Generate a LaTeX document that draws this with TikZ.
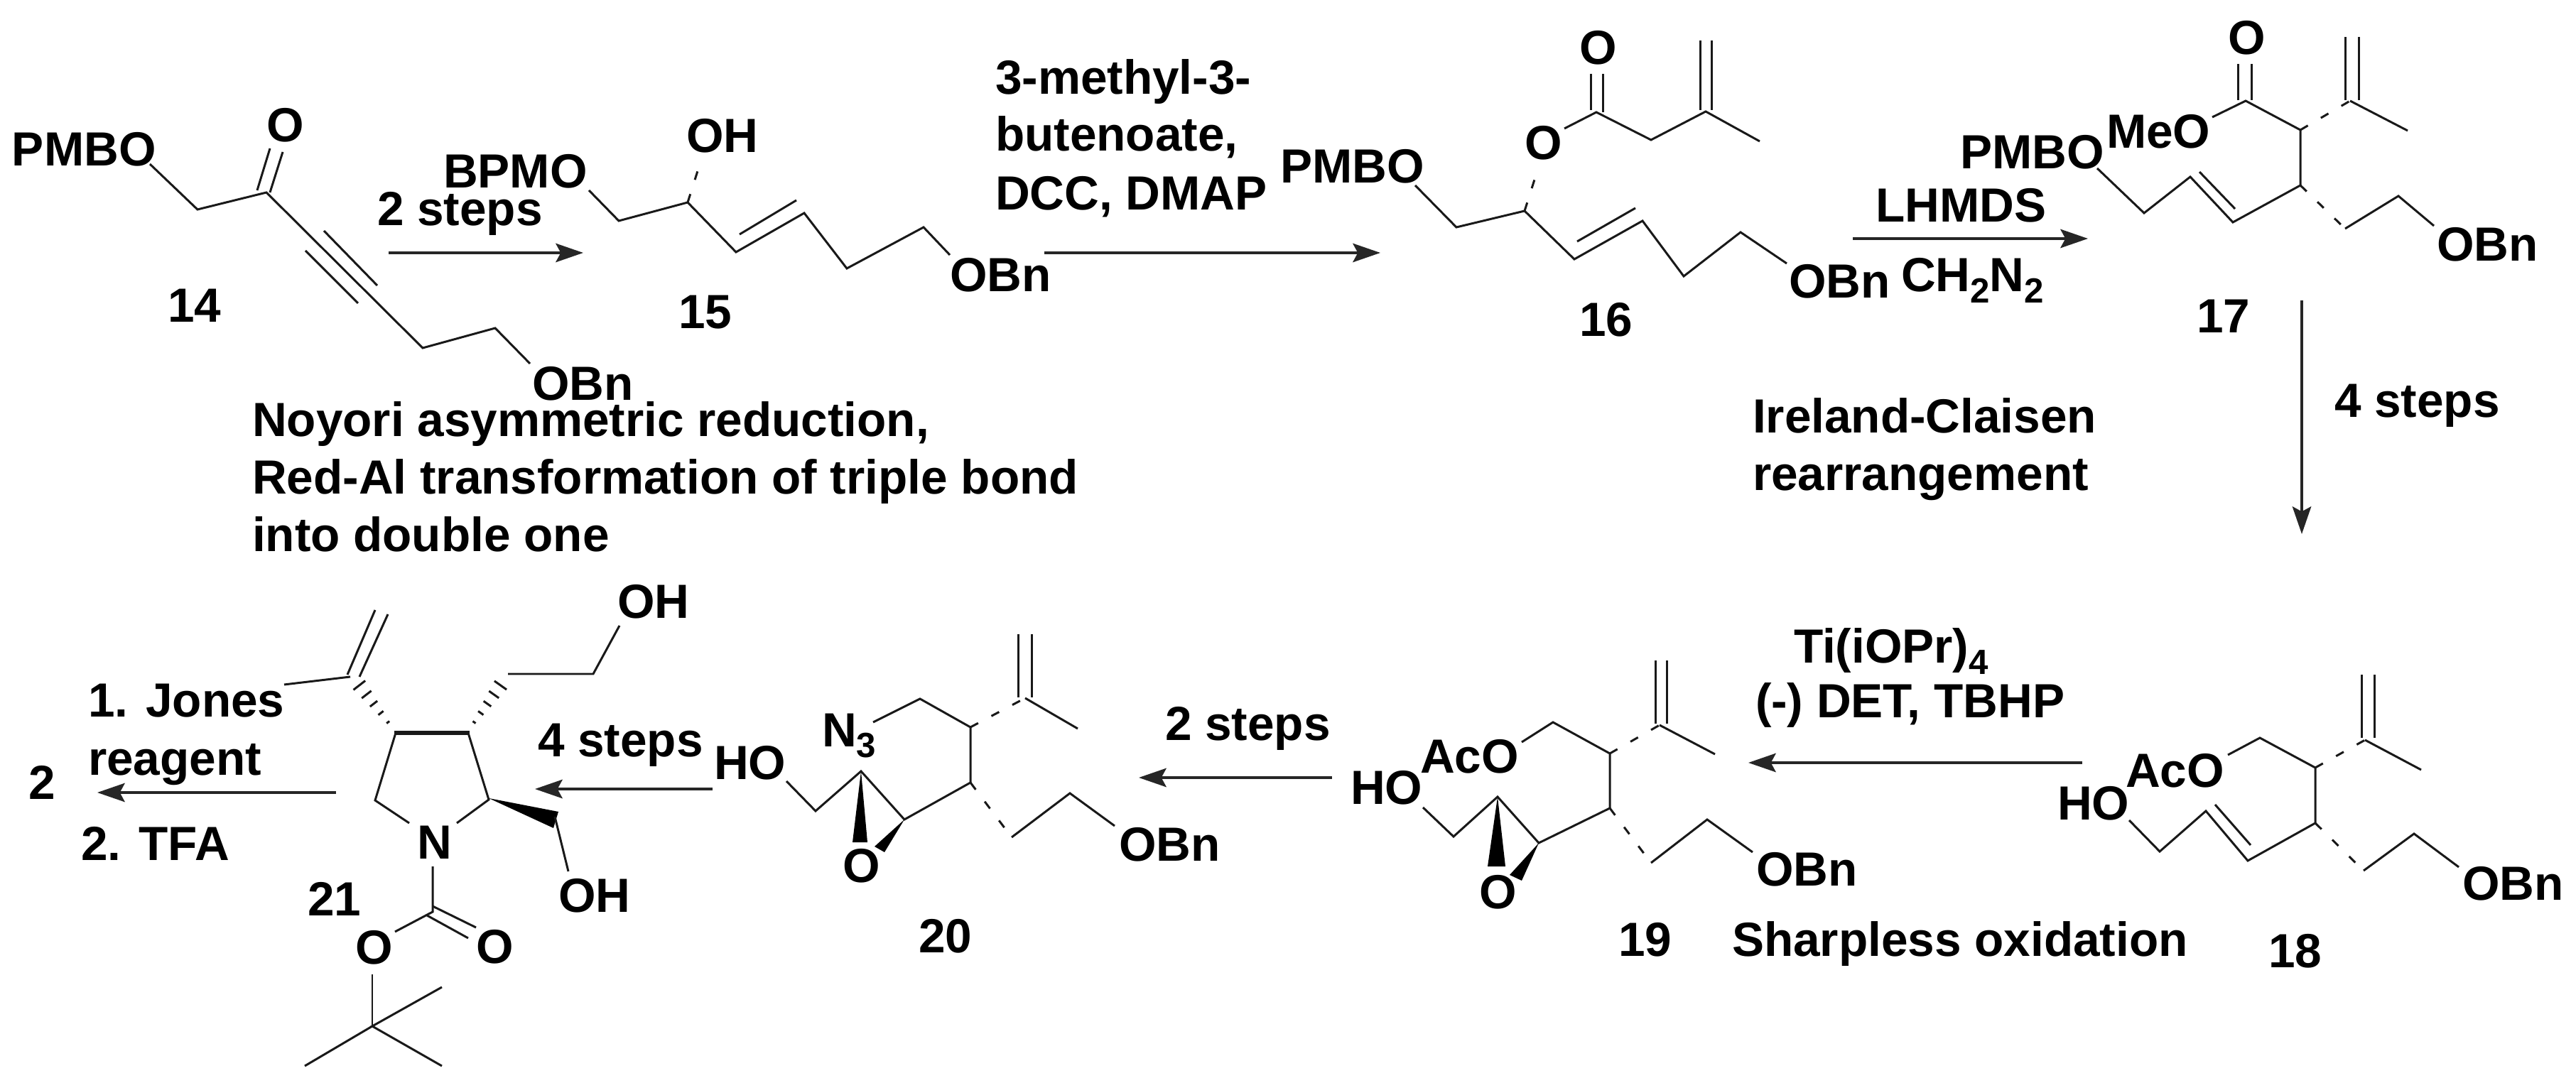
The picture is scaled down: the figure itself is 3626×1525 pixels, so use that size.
\documentclass[tikz,border=0pt]{standalone}
\usepackage{fontspec}
\setmainfont{Liberation Sans}
\usetikzlibrary{arrows.meta,calc}
\newcommand\lab[4]{\node[lab] (#1) at (#2,#3) {#4};}
\newcommand\subtwo[1]{\raisebox{-4.3pt}{\fontsize{14}{16}\selectfont #1}}
% hashed wedge from narrow end (#1) to broad end (#2)
\newcommand\hwedge[2]{%
  \foreach \t/\w in {0.08/2.5,0.29/4.5,0.5/6.5,0.71/8.5,0.92/10.5}{%
    \draw[hashline] ($#1!\t!#2!\w*0.01cm!90:#2$) -- ($#1!\t!#2!\w*0.01cm!-90:#2$);}}
\begin{document}
\begin{tikzpicture}[x=0.01cm,y=-0.01cm,
  lab/.style={anchor=base west,inner sep=0pt,outer sep=0pt,text=black,font=\fontsize{19.2}{23}\selectfont\bfseries},
  bondline/.style={draw=black!90,line width=0.85pt,line join=miter,line cap=butt},
  dashbond/.style={bondline,dash pattern=on 3.5pt off 6pt},
  boldbond/.style={draw=black!90,line width=1.7pt},
  hashline/.style={draw=black!90,line width=0.85pt},
  wedgefill/.style={fill=black,draw=none},
  rxn/.style={draw=black!85,line width=1.1pt,-{Stealth[length=11pt,width=7.5pt,inset=2pt]}}]
\useasboundingbox (0,0) rectangle (3626,1525);
\fill[white] (0,0) rectangle (3626,1525);

% ---- 14 ----
\lab{pmbA}{17}{234}{PMBO}
\lab{oA}{375}{200}{O}
\lab{obnA}{749}{564}{OBn}
\lab{numA}{236}{454}{14}
\draw[bondline] (211,231) -- (278,295) -- (375,271) -- (595,490) -- (697,462) -- (746,512);
\draw[bondline] (362,268) -- (380,209);
\draw[bondline] (380,271) -- (398,214);
\draw[bondline] (456,325) -- (531,402);
\draw[bondline] (430,353) -- (504,427);

% ---- 14 to 15 ----
\coordinate (a1s) at (547,356); \coordinate (a1e) at (821,356);
\draw[rxn] (a1s) -- (a1e);
\lab{stepsA}{531}{318}{2 steps}

% ---- 15 ----
\lab{bpmB}{624}{265}{BPMO}
\lab{ohB}{966}{215}{OH}
\lab{obnB}{1337}{411}{OBn}
\lab{numB}{955}{463}{15}
\draw[bondline] (829,268) -- (871,311) -- (968,285) -- (1036,355) -- (1132,300) -- (1192,378) -- (1300,320) -- (1337,359);
\draw[bondline] (1041,330) -- (1121,282);
\coordinate (hBa) at (968,285); \coordinate (hBb) at (987,225);
\draw[dashbond] (hBa) -- (hBb);

% captions under 14
\lab{noyA}{355}{615}{Noyori asymmetric reduction,}
\lab{noyB}{355}{696}{Red-Al transformation of triple bond}
\lab{noyC}{355}{777}{into double one}

% ---- 15 to 16 ----
\coordinate (a2s) at (1470,356); \coordinate (a2e) at (1943,356);
\draw[rxn] (a2s) -- (a2e);
\lab{reagA}{1401}{133}{3-methyl-3-}
\lab{reagB}{1401}{213}{butenoate,}
\lab{reagC}{1401}{296}{DCC, DMAP}

% ---- 16 ----
\lab{pmbC}{1802}{258}{PMBO}
\lab{oC}{2146}{225}{O}
\lab{ocC}{2223}{91}{O}
\lab{obnC}{2518}{420}{OBn}
\lab{numC}{2223}{474}{16}
\draw[bondline] (1992,261) -- (2050,320) -- (2146,297) -- (2216,365) -- (2312,311) -- (2370,389) -- (2450,327) -- (2515,371);
\draw[bondline] (2220,340) -- (2302,293);
\coordinate (hCa) at (2146,297); \coordinate (hCb) at (2166,234);
\draw[dashbond] (hCa) -- (hCb);
\draw[bondline] (2202,181) -- (2247,158) -- (2324,197) -- (2401,157) -- (2477,199);
\draw[bondline] (2239,155) -- (2239,104);
\draw[bondline] (2256,158) -- (2256,104);
\draw[bondline] (2393,155) -- (2393,57);
\draw[bondline] (2409,155) -- (2409,57);

% ---- 16 to 17 ----
\coordinate (a3s) at (2608,336); \coordinate (a3e) at (2939,336);
\draw[rxn] (a3s) -- (a3e);
\lab{lhm}{2640}{313}{LHMDS}
\lab{chn}{2676}{411}{CH\subtwo{2}N\subtwo{2}}
\lab{irA}{2467}{610}{Ireland-Claisen}
\lab{irB}{2467}{691}{rearrangement}

% ---- 17 ----
\lab{pmbD}{2759}{238}{PMBO}
\lab{meD}{2965}{209}{MeO}
\lab{oD}{3136}{77}{O}
\lab{obnD}{3430}{368}{OBn}
\lab{numD}{3092}{469}{17}
\draw[bondline] (2952,237) -- (3018,300) -- (3083,249) -- (3143,313) -- (3238,261) -- (3238,183) -- (3161,142) -- (3114,165);
\draw[bondline] (3096,242) -- (3146,294);
\draw[dashbond] (3238,261) -- (3301,322);
\draw[bondline] (3301,322) -- (3376,276) -- (3426,318);
\draw[bondline] (3150,141) -- (3150,90);
\draw[bondline] (3169,141) -- (3169,90);
\draw[dashbond] (3238,183) -- (3308,142);
\draw[bondline] (3308,142) -- (3389,184);
\draw[bondline] (3301,141) -- (3301,52);
\draw[bondline] (3320,141) -- (3320,52);

% ---- 17 to 18 ----
\coordinate (a4s) at (3240,423); \coordinate (a4e) at (3240,752);
\draw[rxn] (a4s) -- (a4e);
\lab{stepsD}{3286}{588}{4 steps}

% ---- 18 ----
\lab{hoE}{2896}{1154}{HO}
\lab{acE}{2992}{1108}{AcO}
\lab{obnE}{3466}{1267}{OBn}
\lab{numE}{3193}{1362}{18}
\draw[bondline] (2997,1155) -- (3040,1199) -- (3105,1142) -- (3164,1212) -- (3259,1159) -- (3259,1081) -- (3181,1039) -- (3136,1063);
\draw[bondline] (3118,1133) -- (3168,1190);
\draw[dashbond] (3259,1159) -- (3327,1226);
\draw[bondline] (3327,1226) -- (3398,1174) -- (3461,1221);
\draw[dashbond] (3259,1081) -- (3329,1042);
\draw[bondline] (3329,1042) -- (3408,1084);
\draw[bondline] (3324,1039) -- (3324,950);
\draw[bondline] (3342,1039) -- (3342,950);

% ---- 18 to 19 ----
\coordinate (a5s) at (2931,1074); \coordinate (a5e) at (2461,1074);
\draw[rxn] (a5s) -- (a5e);
\lab{tiA}{2525}{934}{Ti(iOPr)\subtwo{4}}
\lab{tiB}{2471}{1011}{(-) DET, TBHP}
\lab{sharp}{2438}{1346}{Sharpless oxidation}

% ---- 19 ----
\lab{hoF}{1901}{1133}{HO}
\lab{acF}{1999}{1088}{AcO}
\lab{oF}{2082}{1279}{O}
\lab{obnF}{2472}{1247}{OBn}
\lab{numF}{2278}{1346}{19}
\draw[bondline] (2003,1137) -- (2046,1178) -- (2108,1122) -- (2166,1187) -- (2266,1138) -- (2266,1061) -- (2186,1017) -- (2142,1045);
\fill[wedgefill] (2108,1122) -- (2094,1220) -- (2119,1220) -- cycle;
\fill[wedgefill] (2166,1187) -- (2125,1232) -- (2142,1240) -- cycle;
\draw[dashbond] (2266,1138) -- (2324,1215);
\draw[bondline] (2324,1215) -- (2403,1154) -- (2467,1200);
\draw[dashbond] (2266,1061) -- (2336,1021);
\draw[bondline] (2336,1021) -- (2414,1062);
\draw[bondline] (2330,1019) -- (2330,930);
\draw[bondline] (2346,1019) -- (2346,930);

% ---- 19 to 20 ----
\coordinate (a6s) at (1875,1095); \coordinate (a6e) at (1603,1095);
\draw[rxn] (a6s) -- (a6e);
\lab{stepsF}{1640}{1042}{2 steps}

% ---- 20 ----
\lab{hoG}{1005}{1097}{HO}
\lab{nG}{1157}{1051}{N\subtwo{3}}
\lab{oG}{1186}{1242}{O}
\lab{obnG}{1575}{1212}{OBn}
\lab{numG}{1293}{1341}{20}
\draw[bondline] (1107,1100) -- (1148,1142) -- (1212,1086) -- (1273,1154) -- (1366,1102) -- (1366,1024) -- (1295,984) -- (1229,1017);
\fill[wedgefill] (1212,1086) -- (1200,1186) -- (1221,1186) -- cycle;
\fill[wedgefill] (1273,1154) -- (1231,1192) -- (1245,1200) -- cycle;
\draw[dashbond] (1366,1102) -- (1424,1179);
\draw[bondline] (1424,1179) -- (1506,1117) -- (1569,1163);
\draw[dashbond] (1366,1024) -- (1443,983);
\draw[bondline] (1443,983) -- (1517,1026);
\draw[bondline] (1433,982) -- (1433,893);
\draw[bondline] (1452,982) -- (1452,893);

% ---- 20 to 21 ----
\coordinate (a7s) at (1003,1111); \coordinate (a7e) at (753,1111);
\draw[rxn] (a7s) -- (a7e);
\lab{stepsG}{757}{1066}{4 steps}

% ---- 21 ----
\lab{nH}{587}{1209}{N}
\lab{ohH}{786}{1284}{OH}
\lab{ohI}{869}{871}{OH}
\lab{numH}{433}{1289}{21}
\lab{oH}{500}{1357}{O}
\lab{ocH}{670}{1356}{O}
\draw[bondline] (576,1159) -- (528,1127) -- (557,1032);
\draw[boldbond] (555,1032) -- (661,1032);
\draw[bondline] (659,1032) -- (688,1126) -- (643,1159);
\fill[wedgefill] (688,1124) -- (786,1143) -- (779,1166) -- cycle;
\draw[bondline] (781,1150) -- (800,1227);
\draw[bondline] (872,881) -- (835,949) -- (715,949);
\coordinate (hHa) at (664,1022); \coordinate (hHb) at (708,960);
\hwedge{(hHa)}{(hHb)}
\coordinate (hIa) at (550,1022); \coordinate (hIb) at (502,960);
\hwedge{(hIa)}{(hIb)}
\draw[bondline] (400,964) -- (493,953);
\draw[bondline] (489,950) -- (528,859);
\draw[bondline] (506,953) -- (546,865);
\draw[bondline] (609,1220) -- (609,1284) -- (556,1312);
\draw[bondline] (609,1276) -- (670,1306);
\draw[bondline] (601,1289) -- (659,1321);
\draw[bondline] (524,1372) -- (524,1445);
\draw[bondline] (622,1390) -- (524,1445) -- (622,1501);
\draw[bondline] (524,1445) -- (429,1501);

% ---- 21 to 2 ----
\coordinate (a8s) at (473,1116); \coordinate (a8e) at (137,1116);
\draw[rxn] (a8s) -- (a8e);
\lab{jonA}{124}{1010}{1. Jones}
\lab{jonB}{124}{1091}{reagent}
\lab{tfa}{114}{1211}{2. TFA}
\lab{numTwo}{41}{1126}{2}
\end{tikzpicture}
\end{document}
